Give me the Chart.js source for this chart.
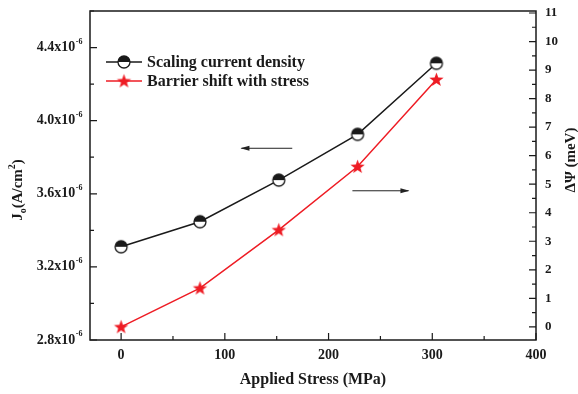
<!DOCTYPE html>
<html>
<head>
<meta charset="utf-8">
<script src="https://cdn.jsdelivr.net/npm/chart.js@4.4.1/dist/chart.umd.min.js"></script>
<style>
  html, body { margin: 0; padding: 0; background: #fff; }
  #wrap { width: 578px; height: 394px; }
</style>
</head>
<body>
<div id="wrap"><canvas id="chart" width="578" height="394"></canvas></div>
<script>
// data
const stress = [0, 76, 152, 228, 304];                    // MPa
const currentDensity = [3.31, 3.447, 3.675, 3.925, 4.314]; // x10^-6 A/cm^2
const barrierShift = [0, 1.36, 3.40, 5.62, 8.67];        // meV

const xTicks = [0, 100, 200, 300, 400];
const xMinor = [50, 150, 250, 350];
const leftTicks = [2.8, 3.2, 3.6, 4.0, 4.4];
const leftMinor = [3.0, 3.4, 3.8, 4.2, 4.6];
const rightTicks = [0, 1, 2, 3, 4, 5, 6, 7, 8, 9, 10, 11];

const labels = ['Scaling current density', 'Barrier shift with stress'];
const RED = '#ee1c24';
const INK = '#1a1a1a';
const SERIF = '"Liberation Serif", "Times New Roman", serif';

// half filled circle marker
function halfCircle(r) {
  const c = document.createElement('canvas');
  c.width = c.height = 2 * r + 4;
  const g = c.getContext('2d');
  const m = r + 2;
  g.beginPath(); g.arc(m, m, r, 0, Math.PI * 2); g.fillStyle = '#fff'; g.fill();
  g.beginPath(); g.arc(m, m, r, Math.PI, Math.PI * 2); g.closePath(); g.fillStyle = INK; g.fill();
  g.beginPath(); g.arc(m, m, r, 0, Math.PI * 2); g.lineWidth = 1.3; g.strokeStyle = INK; g.stroke();
  return c;
}
function star(R, r) {
  const c = document.createElement('canvas');
  c.width = c.height = 2 * R + 2;
  const g = c.getContext('2d');
  const m = R + 1;
  g.beginPath();
  for (let i = 0; i < 10; i++) {
    const rad = i % 2 ? r : R;
    const a = -Math.PI / 2 + i * Math.PI / 5;
    g.lineTo(m + rad * Math.cos(a), m + 0.5 + rad * Math.sin(a));
  }
  g.closePath(); g.fillStyle = RED; g.fill();
  return c;
}
const circleImg = halfCircle(6);
const starImg = star(7.5, 3.1);

function supText(ctx, x, y, base, sup, size, align) {
  ctx.font = 'bold ' + size + 'px ' + SERIF;
  const w1 = ctx.measureText(base).width;
  ctx.font = 'bold ' + Math.round(size * 0.6) + 'px ' + SERIF;
  const w2 = ctx.measureText(sup).width;
  let x0 = align === 'right' ? x - w1 - w2 : x;
  ctx.font = 'bold ' + size + 'px ' + SERIF;
  ctx.textAlign = 'left'; ctx.textBaseline = 'middle';
  ctx.fillText(base, x0, y);
  ctx.font = 'bold ' + Math.round(size * 0.6) + 'px ' + SERIF;
  ctx.fillText(sup, x0 + w1 + 0.5, y - size * 0.4);
}

function arrow(ctx, x1, y, x2) {
  ctx.save();
  ctx.strokeStyle = '#222'; ctx.fillStyle = '#222'; ctx.lineWidth = 1;
  ctx.beginPath(); ctx.moveTo(x1, y); ctx.lineTo(x2, y); ctx.stroke();
  const d = x2 > x1 ? 1 : -1;
  ctx.beginPath();
  ctx.moveTo(x2 + d, y); ctx.lineTo(x2 - d * 8, y - 2.5); ctx.lineTo(x2 - d * 8, y + 2.5);
  ctx.closePath(); ctx.fill();
  ctx.restore();
}

const decor = {
  id: 'decor',
  afterDraw(chart) {
    const ctx = chart.ctx;
    const a = chart.chartArea;
    const sx = chart.scales.x, sl = chart.scales.y, sr = chart.scales.y1;
    ctx.save();
    // frame
    ctx.strokeStyle = INK; ctx.lineWidth = 1.5;
    ctx.strokeRect(a.left, a.top, a.right - a.left, a.bottom - a.top);
    ctx.lineWidth = 1.2;
    ctx.beginPath();
    xTicks.forEach(v => { const p = sx.getPixelForValue(v); ctx.moveTo(p, a.bottom); ctx.lineTo(p, a.bottom - 7); });
    xMinor.forEach(v => { const p = sx.getPixelForValue(v); ctx.moveTo(p, a.bottom); ctx.lineTo(p, a.bottom - 4); });
    leftTicks.forEach(v => { const p = sl.getPixelForValue(v); ctx.moveTo(a.left, p); ctx.lineTo(a.left + 7, p); });
    leftMinor.forEach(v => { const p = sl.getPixelForValue(v); ctx.moveTo(a.left, p); ctx.lineTo(a.left + 4, p); });
    rightTicks.forEach(v => {
      const p = sr.getPixelForValue(v); ctx.moveTo(a.right, p); ctx.lineTo(a.right - 7, p);
      const q = sr.getPixelForValue(v + 0.5);
      if (q > a.top) { ctx.moveTo(a.right, q); ctx.lineTo(a.right - 4, q); }
    });
    ctx.stroke();

    // tick labels
    ctx.fillStyle = INK;
    ctx.font = 'bold 14px ' + SERIF;
    ctx.textAlign = 'center'; ctx.textBaseline = 'middle';
    xTicks.forEach(v => ctx.fillText(String(v), sx.getPixelForValue(v), a.bottom + 15));
    ctx.font = 'bold 13px ' + SERIF;
    ctx.textAlign = 'left';
    rightTicks.forEach(v => ctx.fillText(String(v), a.right + 9, sr.getPixelForValue(v)));
    leftTicks.forEach(v => supText(ctx, 82, sl.getPixelForValue(v), v.toFixed(1) + 'x10', '-6', 14, 'right'));

    // axis titles
    ctx.font = 'bold 16px ' + SERIF;
    ctx.textAlign = 'center';
    ctx.fillText('Applied Stress (MPa)', (a.left + a.right) / 2, a.bottom + 40);

    ctx.save();
    ctx.translate(571, 160); ctx.rotate(-Math.PI / 2);
    ctx.font = 'bold 15px ' + SERIF; ctx.textAlign = 'center';
    ctx.fillText('\u0394\u03A8 (meV)', 0, 0);
    ctx.restore();

    ctx.save();
    ctx.translate(18, 190); ctx.rotate(-Math.PI / 2);
    ctx.textAlign = 'left';
    const parts = [['J', 15, 0], ['o', 10, 5], ['(A/cm', 15, 0], ['2', 10, -6], [')', 15, 0]];
    let tw = 0;
    parts.forEach(p => { ctx.font = 'bold ' + p[1] + 'px ' + SERIF; tw += ctx.measureText(p[0]).width; });
    let px = -tw / 2;
    parts.forEach(p => {
      ctx.font = 'bold ' + p[1] + 'px ' + SERIF;
      ctx.fillText(p[0], px, p[2]);
      px += ctx.measureText(p[0]).width;
    });
    ctx.restore();

    // legend
    const rows = [[INK, circleImg, 62], [RED, starImg, 81]];
    rows.forEach((r, i) => {
      ctx.strokeStyle = r[0]; ctx.lineWidth = 1.5;
      ctx.beginPath(); ctx.moveTo(106, r[2]); ctx.lineTo(142, r[2]); ctx.stroke();
      ctx.drawImage(r[1], 124 - r[1].width / 2, r[2] - r[1].height / 2);
      ctx.fillStyle = INK;
      ctx.font = 'bold 16px ' + SERIF; ctx.textAlign = 'left'; ctx.textBaseline = 'middle';
      ctx.fillText(labels[i], 147, r[2] + 1);
    });

    // direction arrows, placed in data units
    arrow(ctx, sx.getPixelForValue(165), sl.getPixelForValue(3.849), sx.getPixelForValue(116));
    arrow(ctx, sx.getPixelForValue(223), sr.getPixelForValue(4.77), sx.getPixelForValue(277));
    ctx.restore();
  }
};

const ctx = document.getElementById('chart').getContext('2d');
new Chart(ctx, {
  type: 'line',
  data: {
    datasets: [{
      label: labels[0],
      data: stress.map((s, i) => ({ x: s, y: currentDensity[i] })),
      yAxisID: 'y',
      borderColor: INK,
      borderWidth: 1.5,
      pointStyle: circleImg,
      pointRadius: 6,
      fill: false
    }, {
      label: labels[1],
      data: stress.map((s, i) => ({ x: s, y: barrierShift[i] })),
      yAxisID: 'y1',
      borderColor: RED,
      borderWidth: 1.5,
      pointStyle: starImg,
      pointRadius: 7,
      fill: false
    }]
  },
  options: {
    responsive: false,
    animation: false,
    layout: { padding: { top: 11, left: 0, right: 0, bottom: 0 } },
    plugins: { legend: { display: false }, tooltip: { enabled: false } },
    scales: {
      x: {
        type: 'linear', min: -30, max: 400,
        ticks: { display: false }, grid: { display: false }, border: { display: false },
        afterFit: s => { s.height = 54; }
      },
      y: {
        position: 'left', min: 2.8, max: 4.6,
        ticks: { display: false }, grid: { display: false }, border: { display: false },
        afterFit: s => { s.width = 90; }
      },
      y1: {
        position: 'right', min: -0.46, max: 11.07,
        ticks: { display: false }, grid: { display: false }, border: { display: false },
        afterFit: s => { s.width = 42; }
      }
    }
  },
  plugins: [decor]
});
</script>
</body>
</html>
